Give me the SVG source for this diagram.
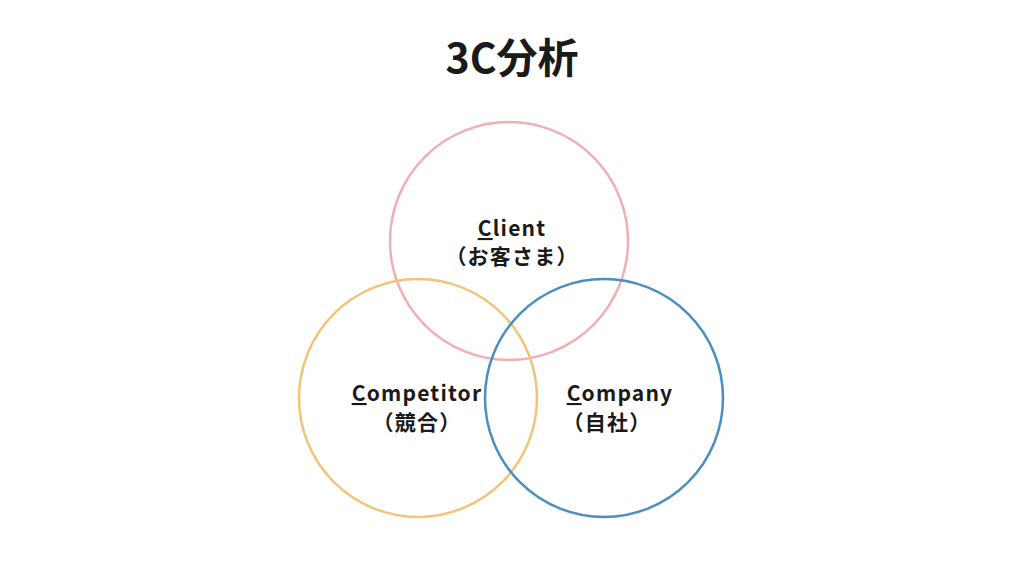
<svg xmlns="http://www.w3.org/2000/svg" width="1024" height="576" viewBox="0 0 1024 576">
<style>
text{font-family:"Noto Sans CJK JP","Noto Sans",sans-serif;fill:#1a1a1a;text-anchor:middle}
.t{font-size:41px;font-weight:bold}
.l{font-size:21px;font-weight:bold;letter-spacing:1.2px}
.u{text-decoration:underline}
circle{fill:none;stroke-width:2.5}
</style>
<rect width="1024" height="576" fill="#fff"/>
<text class="t" x="512" y="73">3C分析</text>
<g id="client"><circle cx="509" cy="241" r="119" stroke="#eeb0b4"/>
<text class="l" x="512" y="236"><tspan class="u">C</tspan>lient</text>
<text class="l" x="512" y="264">（お客さま）</text></g>
<g id="competitor"><circle cx="418" cy="398" r="119" stroke="#f0c57a"/>
<text class="l" x="417" y="401"><tspan class="u">C</tspan>ompetitor</text>
<text class="l" x="417" y="430">（競合）</text></g>
<g id="company"><circle cx="604" cy="398" r="119" stroke="#4a8fc0"/>
<text class="l" x="620" y="401"><tspan class="u">C</tspan>ompany</text>
<text class="l" x="607" y="430">（自社）</text></g>
<g id="connectors"/>
</svg>
